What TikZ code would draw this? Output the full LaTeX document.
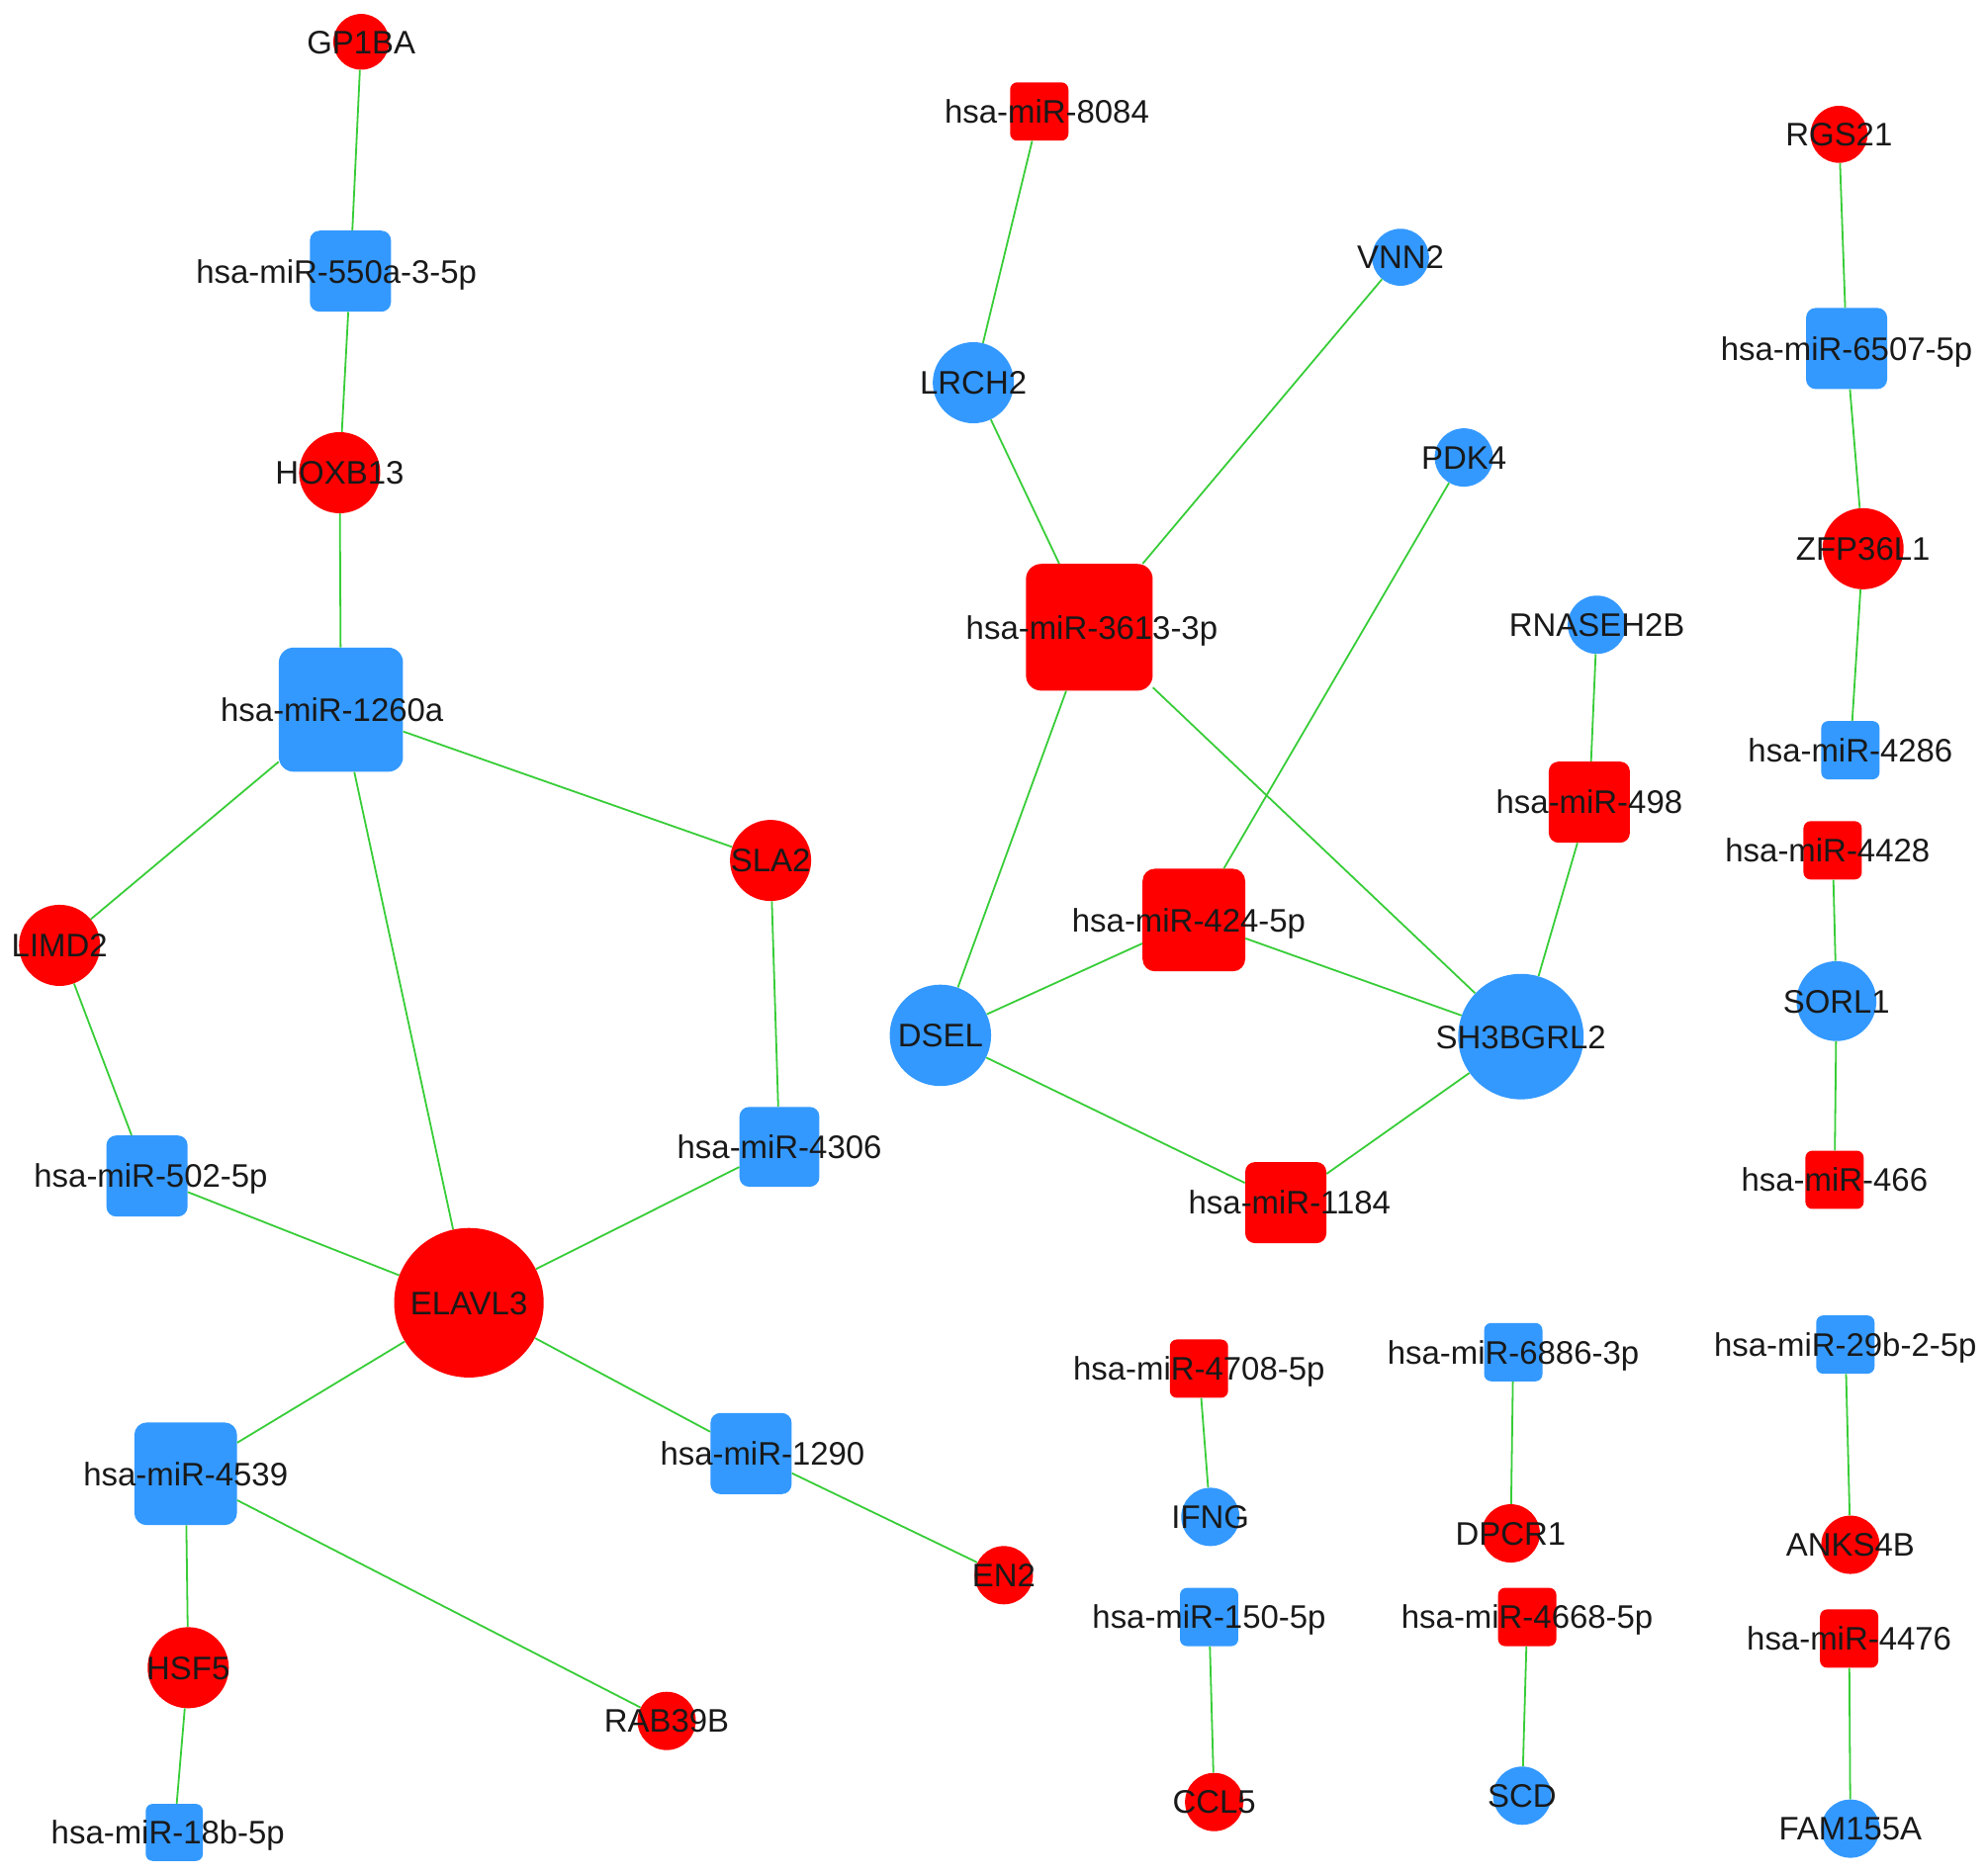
\documentclass[tikz,border=0pt]{standalone}
\usepackage{fontspec}
\setmainfont{Liberation Sans}
\definecolor{nred}{RGB}{255,0,0}
\definecolor{nblue}{RGB}{51,153,255}
\definecolor{egreen}{RGB}{55,205,55}
\definecolor{txt}{RGB}{25,25,25}
\newcommand\labfont{\fontsize{25.7}{30}\selectfont}
\tikzset{
  rc/.style={circle, fill=nred, draw=none, inner sep=0pt, minimum size=#1pt},
  bc/.style={circle, fill=nblue, draw=none, inner sep=0pt, minimum size=#1pt},
  rs/.style={rectangle, fill=nred, draw=none, inner sep=0pt, minimum size=#1pt, rounded corners=0.12*#1pt},
  bs/.style={rectangle, fill=nblue, draw=none, inner sep=0pt, minimum size=#1pt, rounded corners=0.12*#1pt},
  lab/.style={font=\labfont, text=txt, inner sep=0pt, text height=18.4pt, text depth=0pt, anchor=center},
  link/.style={draw=egreen, line width=1.4pt}
}
\begin{document}
\begin{tikzpicture}[x=1pt, y=-1pt]
\useasboundingbox (0,0) rectangle (1567,1480);
\fill[white] (0,0) rectangle (1567,1480);
% ---- shapes ----
\node[rc=44] (GP1BA) at (285,33) {};
\node[bs=64] (m550) at (276.5,214) {};
\node[rc=64] (HOXB13) at (268,373) {};
\node[bs=98] (m1260a) at (269,560) {};
\node[rc=64] (SLA2) at (608,679) {};
\node[rc=64] (LIMD2) at (47,746) {};
\node[bs=64] (m502) at (116,928) {};
\node[bs=63] (m4306) at (615,905) {};
\node[rc=118] (ELAVL3) at (370,1028) {};
\node[bs=81] (m4539) at (146.5,1163) {};
\node[bs=64] (m1290) at (592.6,1147) {};
\node[rc=46] (EN2) at (792,1243) {};
\node[rc=64] (HSF5) at (148.5,1316) {};
\node[rc=46] (RAB39B) at (526,1358) {};
\node[bs=45] (m18b) at (137.5,1446) {};

\node[rs=46] (m8084) at (820,88) {};
\node[bc=64] (LRCH2) at (768,302) {};
\node[bc=45] (VNN2) at (1105,203) {};
\node[bc=46] (PDK4) at (1155,361) {};
\node[rs=100] (m3613) at (859.5,495) {};
\node[bc=46] (RNASEH2B) at (1260,493) {};
\node[rs=64] (m498) at (1254,633) {};
\node[rs=81] (m424) at (942,726) {};
\node[bc=80] (DSEL) at (742,817) {};
\node[bc=99] (SH3BGRL2) at (1200,818) {};
\node[rs=64] (m1184) at (1014.5,949) {};

\node[rc=45] (RGS21) at (1451,106) {};
\node[bs=64] (m6507) at (1457,275) {};
\node[rc=64] (ZFP36L1) at (1470,433) {};
\node[bs=46] (m4286) at (1460,592) {};
\node[rs=46] (m4428) at (1446,671) {};
\node[bc=63] (SORL1) at (1449,790) {};
\node[rs=46] (m466) at (1447.5,931) {};
\node[rs=46] (m4708) at (946,1080) {};
\node[bc=46] (IFNG) at (955,1197) {};
\node[bs=46] (m6886) at (1194,1067) {};
\node[rc=46] (DPCR1) at (1192,1210) {};
\node[bs=46] (m29b) at (1456,1061) {};
\node[rc=46] (ANKS4B) at (1460,1219) {};
\node[bs=46] (m150) at (954,1276) {};
\node[rc=46] (CCL5) at (958,1422) {};
\node[rs=46] (m4668) at (1205,1276) {};
\node[bc=46] (SCD) at (1201,1417) {};
\node[rs=46] (m4476) at (1459,1293) {};
\node[bc=46] (FAM155A) at (1460,1443) {};
% ---- edges ----
\path[link] (GP1BA) -- (m550);
\path[link] (m550) -- (HOXB13);
\path[link] (HOXB13) -- (m1260a);
\path[link] (m1260a) -- (SLA2);
\path[link] (m1260a) -- (LIMD2);
\path[link] (m1260a) -- (ELAVL3);
\path[link] (LIMD2) -- (m502);
\path[link] (SLA2) -- (m4306);
\path[link] (m502) -- (ELAVL3);
\path[link] (m4306) -- (ELAVL3);
\path[link] (ELAVL3) -- (m4539);
\path[link] (ELAVL3) -- (m1290);
\path[link] (m1290) -- (EN2);
\path[link] (m4539) -- (HSF5);
\path[link] (m4539) -- (RAB39B);
\path[link] (HSF5) -- (m18b);

\path[link] (m8084) -- (LRCH2);
\path[link] (LRCH2) -- (m3613);
\path[link] (m3613) -- (VNN2);
\path[link] (m3613) -- (DSEL);
\path[link] (m3613) -- (SH3BGRL2);
\path[link] (PDK4) -- (m424);
\path[link] (m424) -- (DSEL);
\path[link] (m424) -- (SH3BGRL2);
\path[link] (DSEL) -- (m1184);
\path[link] (m1184) -- (SH3BGRL2);
\path[link] (RNASEH2B) -- (m498);
\path[link] (m498) -- (SH3BGRL2);

\path[link] (RGS21) -- (m6507);
\path[link] (m6507) -- (ZFP36L1);
\path[link] (ZFP36L1) -- (m4286);
\path[link] (m4428) -- (SORL1);
\path[link] (SORL1) -- (m466);
\path[link] (m4708) -- (IFNG);
\path[link] (m6886) -- (DPCR1);
\path[link] (m29b) -- (ANKS4B);
\path[link] (m150) -- (CCL5);
\path[link] (m4668) -- (SCD);
\path[link] (m4476) -- (FAM155A);
% ---- labels ----
\node[lab] (tGP1BA) at (GP1BA) {GP1BA};
\node[lab, xshift=-11pt] (tm550) at (m550) {hsa-miR-550a-3-5p};
\node[lab] (tHOXB13) at (HOXB13) {HOXB13};
\node[lab, xshift=-7pt] (tm1260a) at (m1260a) {hsa-miR-1260a};
\node[lab] (tSLA2) at (SLA2) {SLA2};
\node[lab] (tLIMD2) at (LIMD2) {LIMD2};
\node[lab, xshift=3pt] (tm502) at (m502) {hsa-miR-502-5p};
\node[lab] (tm4306) at (m4306) {hsa-miR-4306};
\node[lab] (tELAVL3) at (ELAVL3) {ELAVL3};
\node[lab] (tm4539) at (m4539) {hsa-miR-4539};
\node[lab, xshift=9pt] (tm1290) at (m1290) {hsa-miR-1290};
\node[lab] (tEN2) at (EN2) {EN2};
\node[lab] (tHSF5) at (HSF5) {HSF5};
\node[lab] (tRAB39B) at (RAB39B) {RAB39B};
\node[lab, xshift=-5pt] (tm18b) at (m18b) {hsa-miR-18b-5p};

\node[lab, xshift=6pt] (tm8084) at (m8084) {hsa-miR-8084};
\node[lab] (tLRCH2) at (LRCH2) {LRCH2};
\node[lab] (tVNN2) at (VNN2) {VNN2};
\node[lab] (tPDK4) at (PDK4) {PDK4};
\node[lab, xshift=2pt] (tm3613) at (m3613) {hsa-miR-3613-3p};
\node[lab] (tRNASEH2B) at (RNASEH2B) {RNASEH2B};
\node[lab] (tm498) at (m498) {hsa-miR-498};
\node[lab, xshift=-4pt] (tm424) at (m424) {hsa-miR-424-5p};
\node[lab] (tDSEL) at (DSEL) {DSEL};
\node[lab] (tSH3BGRL2) at (SH3BGRL2) {SH3BGRL2};
\node[lab, xshift=3pt] (tm1184) at (m1184) {hsa-miR-1184};

\node[lab] (tRGS21) at (RGS21) {RGS21};
\node[lab] (tm6507) at (m6507) {hsa-miR-6507-5p};
\node[lab] (tZFP36L1) at (ZFP36L1) {ZFP36L1};
\node[lab] (tm4286) at (m4286) {hsa-miR-4286};
\node[lab, xshift=-4pt] (tm4428) at (m4428) {hsa-miR-4428};
\node[lab] (tSORL1) at (SORL1) {SORL1};
\node[lab] (tm466) at (m466) {hsa-miR-466};
\node[lab] (tm4708) at (m4708) {hsa-miR-4708-5p};
\node[lab] (tIFNG) at (IFNG) {IFNG};
\node[lab] (tm6886) at (m6886) {hsa-miR-6886-3p};
\node[lab] (tDPCR1) at (DPCR1) {DPCR1};
\node[lab] (tm29b) at (m29b) {hsa-miR-29b-2-5p};
\node[lab] (tANKS4B) at (ANKS4B) {ANKS4B};
\node[lab] (tm150) at (m150) {hsa-miR-150-5p};
\node[lab] (tCCL5) at (CCL5) {CCL5};
\node[lab] (tm4668) at (m4668) {hsa-miR-4668-5p};
\node[lab] (tSCD) at (SCD) {SCD};
\node[lab] (tm4476) at (m4476) {hsa-miR-4476};
\node[lab] (tFAM155A) at (FAM155A) {FAM155A};
\end{tikzpicture}
\end{document}
